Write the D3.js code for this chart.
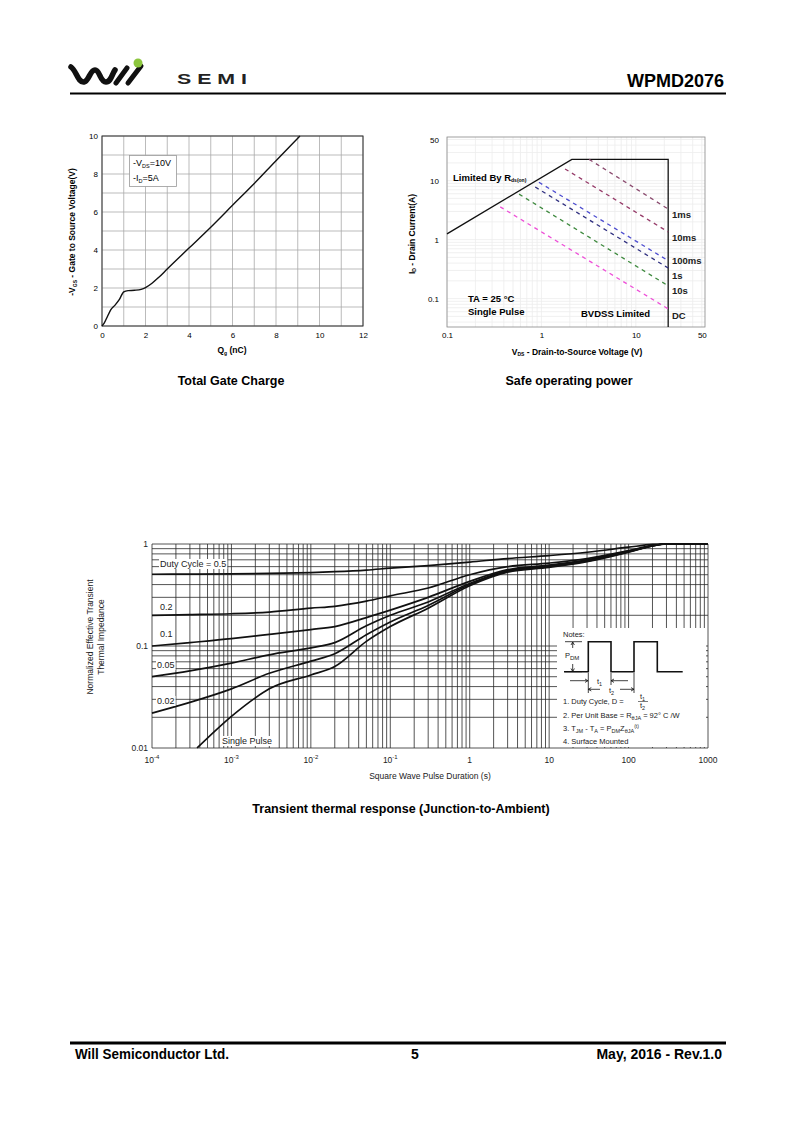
<!DOCTYPE html>
<html>
<head>
<meta charset="utf-8">
<script src="https://cdn.jsdelivr.net/npm/d3@7"></script>
<style>
  body { margin: 0; background: #fff; }
  svg { font-family: "Liberation Sans", Arial, sans-serif; }
</style>
</head>
<body>
<div id="page"></div>
<script>
// ---- data ----
// gate charge curve (Qg nC, -VGS V)
var qgValues = [0, 0.1, 0.25, 0.4, 0.6, 0.8, 1.0, 1.2, 1.5, 1.8, 2.0, 2.3, 2.6, 3.0, 4.0, 5.0, 6.0, 7.0, 8.0, 9.1];
var vgsValues = [0, 0.15, 0.5, 0.85, 1.1, 1.4, 1.8, 1.86, 1.88, 1.93, 2.02, 2.25, 2.55, 3.0, 4.1, 5.2, 6.35, 7.5, 8.7, 10];
var qgTicks = [0, 2, 4, 6, 8, 10, 12];
var vgsTicks = [0, 2, 4, 6, 8, 10];

// safe operating area
var soaVTicks = [0.1, 1, 10, 50];
var soaITicks = [0.1, 1, 10, 50];
var limitV = [0.1, 2.1, 22, 22];
var limitI = [1.25, 23, 23, 0.033];
var pulseNames = ["1ms", "10ms", "100ms", "1s", "10s", "DC"];
var pulseStartV = [3.2, 1.78, 0.94, 0.86, 0.58, 0.366];
var pulseStartI = [23, 15.8, 9.4, 7.8, 5.9, 3.6];
var pulseEndV = [22, 22, 22, 22, 22, 22];
var pulseEndI = [3.3, 1.35, 0.44, 0.33, 0.165, 0.067];
var pulseColors = ["#8a4a6e", "#953a68", "#4d4dd0", "#303080", "#3f8a3f", "#ee50d8"];
var pulseLabelY = [218, 241, 263.5, 279, 293.5, 319];

// transient thermal impedance
var tTime = [1e-4, 3e-4, 1e-3, 3e-3, 1e-2, 2e-2, 5e-2, 0.1, 0.3, 1, 3, 10, 30, 100, 200, 300, 1000];
var zD05 = [0.505, 0.507, 0.51, 0.515, 0.525, 0.535, 0.555, 0.58, 0.615, 0.665, 0.72, 0.77, 0.83, 0.93, 0.99, 1, 1];
var zD02 = [0.2, 0.203, 0.207, 0.215, 0.235, 0.245, 0.275, 0.31, 0.37, 0.5, 0.6, 0.65, 0.72, 0.86, 0.97, 1, 1];
var zD01 = [0.1, 0.108, 0.118, 0.13, 0.145, 0.155, 0.19, 0.225, 0.3, 0.43, 0.56, 0.62, 0.7, 0.85, 0.96, 1, 1];
var zD005 = [0.05, 0.057, 0.068, 0.082, 0.096, 0.108, 0.158, 0.2, 0.27, 0.41, 0.55, 0.61, 0.69, 0.84, 0.96, 1, 1];
var zD002 = [0.022, 0.028, 0.038, 0.054, 0.071, 0.084, 0.129, 0.172, 0.25, 0.4, 0.54, 0.6, 0.68, 0.84, 0.96, 1, 1];
var spTime = [3.7e-4, 1e-3, 2e-3, 3e-3, 1e-2, 2e-2, 5e-2, 0.1, 0.3, 1, 3, 10, 30, 100, 200, 300, 1000];
var zSingle = [0.01, 0.0204, 0.031, 0.038, 0.052, 0.063, 0.111, 0.155, 0.235, 0.39, 0.53, 0.59, 0.67, 0.83, 0.96, 1, 1];
var tTickExp = [-4, -3, -2, -1, 0, 1, 2, 3];
var tTickText = ["10", "10", "10", "10", "1", "10", "100", "1000"];
var tTickSup = ["-4", "-3", "-2", "-1", "", "", "", ""];
var zTicks = [0.01, 0.1, 1];
var zTickText = ["0.01", "0.1", "1"];

var svg = d3.select("#page").append("svg")
  .attr("width", 800).attr("height", 1131);

// ---- header ----
var logo = svg.append("g");
logo.append("path")
  .attr("d", "M71,67 C76,70 78,83 84,82 C89,81 90,70 95,70 C100,70 100,82 106,82 C111,82 112,74 115,70")
  .attr("fill", "none").attr("stroke", "#111").attr("stroke-width", 5.5).attr("stroke-linecap", "round");
logo.append("path").attr("d", "M116,83 L127,68").attr("stroke", "#111").attr("stroke-width", 5).attr("stroke-linecap", "round");
logo.append("path").attr("d", "M128,83 L141,66").attr("stroke", "#111").attr("stroke-width", 5).attr("stroke-linecap", "round");
logo.append("circle").attr("cx", 138).attr("cy", 63).attr("r", 4.5).attr("fill", "#8cc63e");
svg.append("text").attr("x", 177).attr("y", 84).attr("font-size", 14).attr("font-weight", "bold")
  .attr("textLength", 70).attr("lengthAdjust", "spacingAndGlyphs")
  .attr("fill", "#222").text("S E M I");
svg.append("text").attr("x", 724).attr("y", 87).attr("text-anchor", "end")
  .attr("font-size", 18).attr("font-weight", "bold").text("WPMD2076");
svg.append("line").attr("x1", 70).attr("x2", 726).attr("y1", 93.5).attr("y2", 93.5)
  .attr("stroke", "#000").attr("stroke-width", 2);

// ---- footer ----
svg.append("line").attr("x1", 70).attr("x2", 726).attr("y1", 1043).attr("y2", 1043)
  .attr("stroke", "#000").attr("stroke-width", 3);
var foot = svg.append("g").attr("font-weight", "bold").attr("font-size", 14);
foot.append("text").attr("x", 75).attr("y", 1059)
  .attr("textLength", 154).attr("lengthAdjust", "spacingAndGlyphs").text("Will Semiconductor Ltd.");
foot.append("text").attr("x", 415).attr("y", 1059).attr("text-anchor", "middle").text("5");
foot.append("text").attr("x", 722).attr("y", 1059).attr("text-anchor", "end").text("May, 2016 - Rev.1.0");

// ---- chart 1 : gate charge ----
var gx = d3.scaleLinear().domain([0, 12]).range([102, 363]);
var gy = d3.scaleLinear().domain([0, 10]).range([326, 136]);
var g1 = svg.append("g");

g1.selectAll(".vg").data(d3.range(0, 13)).enter().append("line")
  .attr("x1", d => gx(d)).attr("x2", d => gx(d)).attr("y1", gy(0)).attr("y2", gy(10))
  .attr("stroke", "#aaa").attr("stroke-width", 0.8);
g1.selectAll(".hg").data(d3.range(0, 11)).enter().append("line")
  .attr("x1", gx(0)).attr("x2", gx(12)).attr("y1", d => gy(d)).attr("y2", d => gy(d))
  .attr("stroke", "#aaa").attr("stroke-width", 0.8);
g1.append("rect").attr("x", gx(0)).attr("y", gy(10)).attr("width", gx(12) - gx(0)).attr("height", gy(0) - gy(10))
  .attr("fill", "none").attr("stroke", "#333").attr("stroke-width", 1);

g1.append("g").attr("transform", `translate(0, ${gy(0)})`)
  .call(d3.axisBottom(gx).tickValues(qgTicks).tickSize(0).tickPadding(6))
  .call(a => a.select(".domain").remove())
  .selectAll("text").attr("font-size", 8).attr("font-family", "Liberation Sans");
g1.append("g").attr("transform", `translate(${gx(0)}, 0)`)
  .call(d3.axisLeft(gy).tickValues(vgsTicks).tickSize(0).tickPadding(4))
  .call(a => a.select(".domain").remove())
  .selectAll("text").attr("font-size", 8).attr("font-family", "Liberation Sans");

var gateLine = d3.line().x(d => gx(d[0])).y(d => gy(d[1])).curve(d3.curveMonotoneX);
g1.append("path").datum(d3.zip(qgValues, vgsValues)).attr("d", gateLine)
  .attr("fill", "none").attr("stroke", "#111").attr("stroke-width", 1.4);

g1.append("rect").attr("x", 129.5).attr("y", 155.5).attr("width", 47).attr("height", 31)
  .attr("fill", "#fff").attr("stroke", "#999").attr("stroke-width", 0.8);
var lg1 = g1.append("text").attr("x", 133).attr("y", 166).attr("font-size", 9);
lg1.append("tspan").text("-V");
lg1.append("tspan").attr("font-size", 5.5).attr("dy", 2).text("DS");
lg1.append("tspan").attr("dy", -2).text("=10V");
var lg2 = g1.append("text").attr("x", 133).attr("y", 181).attr("font-size", 9);
lg2.append("tspan").text("-I");
lg2.append("tspan").attr("font-size", 5.5).attr("dy", 2).text("D");
lg2.append("tspan").attr("dy", -2).text("=5A");

var gyl = g1.append("text").attr("transform", "translate(75, 232) rotate(-90)")
  .attr("text-anchor", "middle").attr("font-size", 8.5).attr("font-weight", "bold");
gyl.append("tspan").text("-V");
gyl.append("tspan").attr("font-size", 5).attr("dy", 2).text("GS");
gyl.append("tspan").attr("dy", -2).text(" - Gate to Source Voltage(V)");
var gxl = g1.append("text").attr("x", 232).attr("y", 353).attr("text-anchor", "middle")
  .attr("font-size", 8.5).attr("font-weight", "bold");
gxl.append("tspan").text("Q");
gxl.append("tspan").attr("font-size", 5).attr("dy", 2).text("g");
gxl.append("tspan").attr("dy", -2).text(" (nC)");

svg.append("text").attr("x", 231).attr("y", 385).attr("text-anchor", "middle")
  .attr("font-size", 12.5).attr("font-weight", "bold").text("Total Gate Charge");

// ---- chart 2 : safe operating area ----
var sx = d3.scaleLog().domain([0.1, 54]).range([447, 705]);
var sy = d3.scaleLog().domain([0.033, 55]).range([327, 137]);
var g2 = svg.append("g");

var minorV = [];
[0.1, 1, 10].forEach(function(b) { for (var k = 1; k < 10; k++) if (b * k <= 54) minorV.push(b * k); });
var minorI = [];
[0.01, 0.1, 1, 10].forEach(function(b) { for (var k = 1; k < 10; k++) if (b * k >= 0.033 && b * k <= 55) minorI.push(b * k); });
g2.selectAll(".sv").data(minorV).enter().append("line")
  .attr("x1", d => sx(d)).attr("x2", d => sx(d)).attr("y1", 327).attr("y2", 137)
  .attr("stroke", "#ececec").attr("stroke-width", 0.8);
g2.selectAll(".sh").data(minorI).enter().append("line")
  .attr("x1", 447).attr("x2", 705).attr("y1", d => sy(d)).attr("y2", d => sy(d))
  .attr("stroke", "#ececec").attr("stroke-width", 0.8);
g2.append("rect").attr("x", 447).attr("y", 137).attr("width", 258).attr("height", 190)
  .attr("fill", "none").attr("stroke", "#888").attr("stroke-width", 0.8);

g2.append("g").attr("transform", "translate(0, 327)")
  .call(d3.axisBottom(sx).tickValues(soaVTicks).tickFormat(d3.format("~g")).tickSize(0).tickPadding(5))
  .call(a => a.select(".domain").remove())
  .selectAll("text").attr("font-size", 8).attr("font-family", "Liberation Sans");
g2.append("g").attr("transform", "translate(447, 0)")
  .call(d3.axisLeft(sy).tickValues(soaITicks).tickFormat(d3.format("~g")).tickSize(0).tickPadding(8))
  .call(a => a.select(".domain").remove())
  .selectAll("text").attr("font-size", 8).attr("font-family", "Liberation Sans");

var soaLine = d3.line().x(d => sx(d[0])).y(d => sy(d[1]));
g2.append("path").datum(d3.zip(limitV, limitI)).attr("d", soaLine)
  .attr("fill", "none").attr("stroke", "#111").attr("stroke-width", 1.3);

pulseNames.forEach(function(name, i) {
  g2.append("path").datum([[pulseStartV[i], pulseStartI[i]], [pulseEndV[i], pulseEndI[i]]])
    .attr("d", soaLine).attr("fill", "none").attr("stroke", pulseColors[i])
    .attr("stroke-width", 1.3).attr("stroke-dasharray", "4,4");
  g2.append("text").attr("x", 672).attr("y", pulseLabelY[i]).attr("font-size", 9.5)
    .attr("font-weight", "bold").attr("fill", "#222").text(name);
});

var rl = g2.append("text").attr("x", 453).attr("y", 181).attr("font-size", 9.5).attr("font-weight", "bold");
rl.append("tspan").text("Limited By R");
rl.append("tspan").attr("font-size", 5).attr("dy", 1).text("ds(on)");
g2.append("text").attr("x", 468).attr("y", 302).attr("font-size", 9.5).attr("font-weight", "bold").text("TA = 25 °C");
g2.append("text").attr("x", 468).attr("y", 314.5).attr("font-size", 9.5).attr("font-weight", "bold").text("Single Pulse");
g2.append("text").attr("x", 581).attr("y", 317).attr("font-size", 9.5).attr("font-weight", "bold").text("BVDSS Limited");

var syl = g2.append("text").attr("transform", "translate(415, 234) rotate(-90)")
  .attr("text-anchor", "middle").attr("font-size", 8.5).attr("font-weight", "bold");
syl.append("tspan").text("I");
syl.append("tspan").attr("font-size", 5).attr("dy", 1).text("D");
syl.append("tspan").attr("dy", -1).text(" - Drain Current(A)");
var sxl = g2.append("text").attr("x", 577).attr("y", 355).attr("text-anchor", "middle")
  .attr("font-size", 8.5).attr("font-weight", "bold");
sxl.append("tspan").text("V");
sxl.append("tspan").attr("font-size", 5).attr("dy", 1).text("DS");
sxl.append("tspan").attr("dy", -1).text(" - Drain-to-Source Voltage (V)");

svg.append("text").attr("x", 569).attr("y", 385).attr("text-anchor", "middle")
  .attr("font-size", 12.5).attr("font-weight", "bold").text("Safe operating power");

// ---- chart 3 : transient thermal response ----
var tx = d3.scaleLog().domain([1e-4, 1000]).range([152, 708]);
var ty = d3.scaleLog().domain([0.01, 1]).range([748, 544]);
var g3 = svg.append("g");

var tMinor = [];
d3.range(-4, 3).forEach(function(e) { for (var k = 1; k < 10; k++) tMinor.push(k * Math.pow(10, e)); });
tMinor.push(1000);
var zMinor = [];
[0.01, 0.1].forEach(function(b) { for (var k = 1; k < 10; k++) zMinor.push(b * k); });
zMinor.push(1);

g3.selectAll(".tv").data(tMinor).enter().append("line")
  .attr("x1", d => tx(d)).attr("x2", d => tx(d)).attr("y1", 748).attr("y2", 544)
  .attr("stroke", "#2a2a2a").attr("stroke-width", 0.8);
g3.selectAll(".th").data(zMinor).enter().append("line")
  .attr("x1", 152).attr("x2", 708).attr("y1", d => ty(d)).attr("y2", d => ty(d))
  .attr("stroke", "#2a2a2a").attr("stroke-width", 0.8);

// notes box
g3.append("rect").attr("x", 557).attr("y", 628).attr("width", 149).attr("height", 119).attr("fill", "#fff");

var tLine = d3.line().x(d => tx(d[0])).y(d => ty(d[1])).curve(d3.curveMonotoneX);
[zD05, zD02, zD01, zD005, zD002].forEach(function(series) {
  g3.append("path").datum(d3.zip(tTime, series)).attr("d", tLine)
    .attr("fill", "none").attr("stroke", "#111").attr("stroke-width", 1.7);
});
g3.append("path").datum(d3.zip(spTime, zSingle)).attr("d", tLine)
  .attr("fill", "none").attr("stroke", "#111").attr("stroke-width", 1.7);

// curve labels
var curveLabels = [["Duty Cycle = 0.5", 160, 567], ["0.2", 160, 610], ["0.1", 160, 637], ["0.05", 157, 668], ["0.02", 157, 704], ["Single Pulse", 222, 744]];
curveLabels.forEach(function(c) {
  var t = g3.append("text").attr("x", c[1]).attr("y", c[2]).attr("font-size", 9).attr("fill", "#222").text(c[0]);
  var bb = t.node().getBBox();
  g3.insert("rect", function() { return t.node(); })
    .attr("x", bb.x - 1).attr("y", bb.y).attr("width", bb.width + 2).attr("height", bb.height).attr("fill", "#fff");
});

// axes labels
tTickExp.forEach(function(e, i) {
  var t = g3.append("text").attr("x", tx(Math.pow(10, e))).attr("y", 763).attr("text-anchor", "middle")
    .attr("font-size", 8.5).attr("fill", "#222");
  t.append("tspan").text(tTickText[i]);
  if (tTickSup[i]) t.append("tspan").attr("font-size", 6).attr("dy", -4).text(tTickSup[i]);
});
zTicks.forEach(function(v, i) {
  g3.append("text").attr("x", 148).attr("y", ty(v) + 3).attr("text-anchor", "end")
    .attr("font-size", 8.5).attr("fill", "#222").text(zTickText[i]);
});
g3.append("text").attr("x", 430).attr("y", 779).attr("text-anchor", "middle").attr("font-size", 8.5)
  .attr("fill", "#222").text("Square Wave Pulse Duration (s)");
g3.append("text").attr("transform", "translate(93, 637) rotate(-90)").attr("text-anchor", "middle")
  .attr("font-size", 8.5).attr("fill", "#222").text("Normalized Effective Transient");
g3.append("text").attr("transform", "translate(104, 637) rotate(-90)").attr("text-anchor", "middle")
  .attr("font-size", 8.5).attr("fill", "#222").text("Thermal Impedance");

// notes
var notes = g3.append("g").attr("fill", "#222").attr("font-size", 7.5);
notes.append("text").attr("x", 563).attr("y", 637).text("Notes:");
notes.append("path").attr("d", "M564,671.7 H588.3 V641.7 H611 V671.7 H634 V641.7 H657.3 V671.7 H682.7")
  .attr("fill", "none").attr("stroke", "#111").attr("stroke-width", 1.6);
notes.append("path").attr("d", "M565,641.7 H582 M565,671.7 H582 M572.7,642 V648 M572.7,664 V671")
  .attr("stroke", "#111").attr("stroke-width", 0.8);
notes.append("path").attr("d", "M571,645 L572.7,642 L574.4,645 M571,668.5 L572.7,671.5 L574.4,668.5")
  .attr("fill", "none").attr("stroke", "#111").attr("stroke-width", 0.8);
var pdm = notes.append("text").attr("x", 565).attr("y", 658);
pdm.append("tspan").text("P");
pdm.append("tspan").attr("font-size", 6).attr("dy", 2).text("DM");
// t1 / t2 dimension marks
notes.append("path").attr("d", "M588.3,673 V693 M611,673 V685 M634,673 V693 M570,680.7 H588 M611,680.7 H628 M588.3,689.3 H600 M620,689.3 H634")
  .attr("fill", "none").attr("stroke", "#111").attr("stroke-width", 0.8);
notes.append("path").attr("d", "M585,679 L588,680.7 L585,682.4 M614,679 L611,680.7 L614,682.4 M591.3,687.6 L588.3,689.3 L591.3,691 M631,687.6 L634,689.3 L631,691")
  .attr("fill", "none").attr("stroke", "#111").attr("stroke-width", 0.8);
var t1 = notes.append("text").attr("x", 597).attr("y", 684);
t1.append("tspan").text("t");
t1.append("tspan").attr("font-size", 5.5).attr("dy", 1.5).text("1");
var t2 = notes.append("text").attr("x", 609).attr("y", 693);
t2.append("tspan").text("t");
t2.append("tspan").attr("font-size", 5.5).attr("dy", 1.5).text("2");

notes.append("text").attr("x", 563).attr("y", 704).text("1. Duty Cycle, D =");
var ft1 = notes.append("text").attr("x", 640).attr("y", 699);
ft1.append("tspan").text("t");
ft1.append("tspan").attr("font-size", 5.5).attr("dy", 1.5).text("1");
notes.append("line").attr("x1", 638).attr("x2", 648).attr("y1", 701.5).attr("y2", 701.5)
  .attr("stroke", "#222").attr("stroke-width", 0.6);
var ft2 = notes.append("text").attr("x", 640).attr("y", 708);
ft2.append("tspan").text("t");
ft2.append("tspan").attr("font-size", 5.5).attr("dy", 1.5).text("2");

var n2 = notes.append("text").attr("x", 563).attr("y", 718);
n2.append("tspan").text("2. Per Unit Base = R");
n2.append("tspan").attr("font-size", 5.5).attr("dy", 1.5).text("θJA");
n2.append("tspan").attr("dy", -1.5).text(" = 92° C /W");
var n3 = notes.append("text").attr("x", 563).attr("y", 731);
n3.append("tspan").text("3. T");
n3.append("tspan").attr("font-size", 5.5).attr("dy", 1.5).text("JM");
n3.append("tspan").attr("dy", -1.5).text(" - T");
n3.append("tspan").attr("font-size", 5.5).attr("dy", 1.5).text("A");
n3.append("tspan").attr("dy", -1.5).text(" = P");
n3.append("tspan").attr("font-size", 5.5).attr("dy", 1.5).text("DM");
n3.append("tspan").attr("dy", -1.5).text("Z");
n3.append("tspan").attr("font-size", 5.5).attr("dy", 1.5).text("θJA");
n3.append("tspan").attr("font-size", 5).attr("dy", -5).text("(t)");
notes.append("text").attr("x", 563).attr("y", 744).text("4. Surface Mounted");

svg.append("text").attr("x", 401).attr("y", 813).attr("text-anchor", "middle")
  .attr("font-size", 12.5).attr("font-weight", "bold").text("Transient thermal response (Junction-to-Ambient)");
</script>
</body>
</html>
